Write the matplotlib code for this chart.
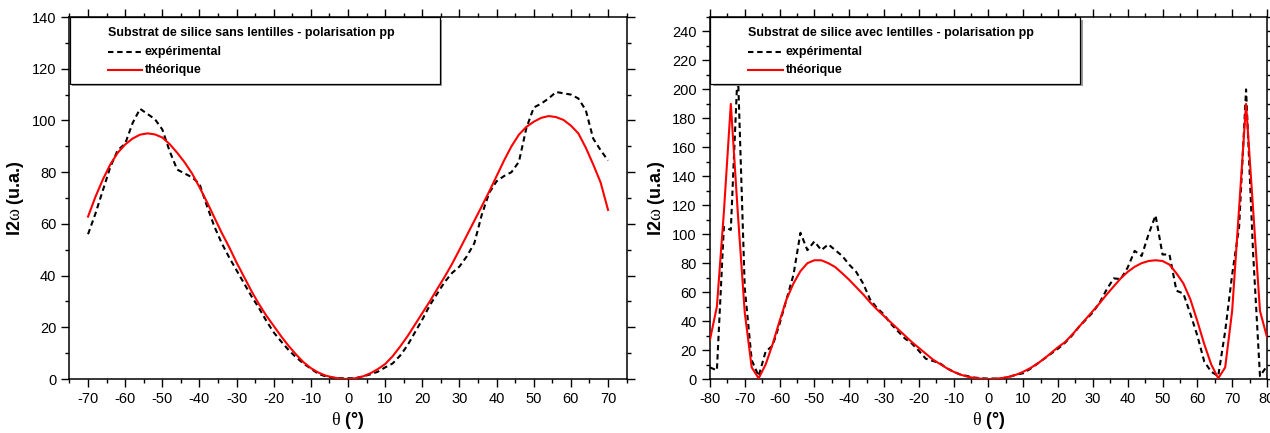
import numpy as np
import matplotlib
matplotlib.use("Agg")
import matplotlib.pyplot as plt
from matplotlib.ticker import MultipleLocator
from matplotlib.patches import Rectangle

plt.rcParams["font.family"] = ["Liberation Sans", "DejaVu Sans"]
plt.rcParams["mathtext.fontset"] = "custom"
plt.rcParams["mathtext.rm"] = "Liberation Serif"
plt.rcParams["axes.unicode_minus"] = False

# left panel: silica substrate without lenses, angles every 2 degrees
theta_sans = np.arange(-70, 71, 2)
exp_sans = [
    56, 64, 73, 82, 88.5, 91, 99, 104.5, 102.5, 100.5,
    96.5, 88, 81, 79.5, 78, 75.5, 67, 59, 52.5, 47,
    42, 37, 32, 27.5, 22.5, 18, 14.5, 11.2, 8.4, 6,
    4, 2, 1, 0.5, 0.3, 0.3, 0.3, 1, 1.8, 2.8,
    4.5, 6, 9, 13, 18, 23, 28.5, 33, 37.5, 41,
    43.5, 47.5, 52.5, 63.5, 72, 76.5, 78.5, 80, 84, 97,
    105, 106.5, 108.5, 111, 110.5, 110, 108.5, 104, 93, 88.5,
    84.5,
]
theo_sans = [
    62.8, 70.5, 77.2, 83, 87.5, 90.7, 93, 94.5, 95, 94.6,
    93.4, 90.8, 87.5, 83.8, 79.5, 74.2, 68.5, 62.5, 56.5, 51,
    45, 39.5, 34, 29, 24.5, 20.5, 16.5, 12.8, 9.5, 6.5,
    4.2, 2.5, 1.3, 0.6, 0.15, 0, 0.3, 1, 2.2, 3.8,
    5.8, 8.8, 12.5, 16.5, 21, 25.5, 30, 34.8, 39.5, 44.5,
    50, 55.6, 61.2, 66.8, 72.5, 78.5, 84.5, 90, 94.5, 97.5,
    99.5, 101, 101.7, 101.3, 100.2, 98, 95, 89.5, 83, 76,
    65.4,
]

# right panel: silica substrate with lenses
theta_avec = np.arange(-80, 81, 2)
exp_avec = [
    8, 6, 105, 103, 215, 63, 13, 2, 19, 23,
    38, 55, 72, 101, 89, 95, 89, 93, 89, 85,
    79, 74, 66, 55, 49, 44.5, 38, 33, 28, 24.5,
    19.5, 14, 12.5, 11, 7.5, 5, 3, 2, 1, 0.5,
    0.3, 0.3, 0.5, 1.5, 3, 4, 7, 10.5, 14, 17.5,
    21, 25, 30, 36, 41, 46, 53, 62, 69.5, 69,
    77, 88.5, 85, 100, 113, 86, 86, 61, 59, 45,
    30, 12, 5, 2, 33, 72, 105, 200, 88, 2,
    9,
]
theo_avec = [
    27, 50, 115, 190, 115, 46, 8, 0.5, 10, 24,
    40, 55, 66, 74.5, 80, 82, 82, 80, 77.3, 73,
    68.5, 63.5, 58.5, 53, 48, 43.5, 39, 34.5, 30, 25.5,
    21.5, 17.5, 13.5, 10.5, 7.5, 5, 3, 1.6, 0.7, 0.2,
    0, 0.2, 0.7, 1.6, 3, 5, 7.5, 10.5, 14, 18,
    22, 25.5, 30.5, 36, 41.5, 47, 52.5, 58.5, 64, 69.5,
    74, 77.5, 80, 81.5, 82, 81.5, 79, 73, 66, 55,
    40, 24, 10, 0.5, 8, 47, 118, 190, 118, 47,
    29,
]

titles = [
    "Substrat de silice sans lentilles - polarisation pp",
    "Substrat de silice avec lentilles - polarisation pp",
]
label_exp = "expérimental"
label_theo = "théorique"

DASH = (0, (2.6, 1.8))


def draw_panel(ax, theta, exp, theo, xlim, ylim, title):
    ax.plot(theta, exp, color="black", lw=1.5, linestyle=DASH, zorder=3)
    ax.plot(theta, theo, color="#ff0000", lw=1.5, zorder=3)

    ax.set_xlim(*xlim)
    ax.set_ylim(*ylim)
    ax.xaxis.set_major_locator(MultipleLocator(10))
    ax.xaxis.set_minor_locator(MultipleLocator(5))
    ax.yaxis.set_major_locator(MultipleLocator(20))
    ax.yaxis.set_minor_locator(MultipleLocator(10))
    ax.tick_params(which="both", direction="out", top=True, right=True,
                   labeltop=False, labelright=False, width=1.0)
    ax.tick_params(which="major", length=5.5, labelsize=10.5, pad=4)
    ax.tick_params(which="minor", length=3)
    for sp in ax.spines.values():
        sp.set_linewidth(1.1)

    # greek letters in a serif face, the rest in bold sans like the original
    ax.set_xlabel(r"$\mathrm{\theta}$ (°)", fontsize=13, fontweight="bold", labelpad=3)
    ax.set_ylabel(r"I2$\mathrm{\omega}$ (u.a.)", fontsize=13, fontweight="bold",
                  labelpad=4)

    # legend box drawn by hand, it hides the curves underneath
    x0, y0, w, h = 0.001, 0.815, 0.664, 0.184
    ax.add_patch(Rectangle((x0 + 0.004, y0 - 0.006), w, h, transform=ax.transAxes,
                           facecolor="#9a9a9a", edgecolor="none", zorder=8, clip_on=False))
    ax.add_patch(Rectangle((x0, y0), w, h, transform=ax.transAxes,
                           facecolor="white", edgecolor="black", lw=0.9, zorder=9,
                           clip_on=False))
    ax.text(0.0687, 0.955, title, transform=ax.transAxes, fontsize=9,
            fontweight="bold", va="center", ha="left", zorder=10)
    ax.plot([0.0687, 0.131], [0.904, 0.904], transform=ax.transAxes, color="black",
            lw=1.5, linestyle=DASH, zorder=10, clip_on=False)
    ax.plot([0.0687, 0.131], [0.853, 0.853], transform=ax.transAxes, color="#ff0000",
            lw=1.5, zorder=10, clip_on=False)
    ax.text(0.1355, 0.904, label_exp, transform=ax.transAxes, fontsize=9,
            fontweight="bold", va="center", ha="left", zorder=10)
    ax.text(0.1355, 0.853, label_theo, transform=ax.transAxes, fontsize=9,
            fontweight="bold", va="center", ha="left", zorder=10)


fig = plt.figure(figsize=(12.7, 4.33), dpi=100)
ax1 = fig.add_axes([0.0547, 0.1247, 0.4387, 0.836])
ax2 = fig.add_axes([0.559, 0.1247, 0.4386, 0.836])

draw_panel(ax1, theta_sans, exp_sans, theo_sans, (-75, 75), (0, 140), titles[0])
draw_panel(ax2, theta_avec, exp_avec, theo_avec, (-80, 80), (0, 250), titles[1])

fig.savefig("out.png", dpi=100)
